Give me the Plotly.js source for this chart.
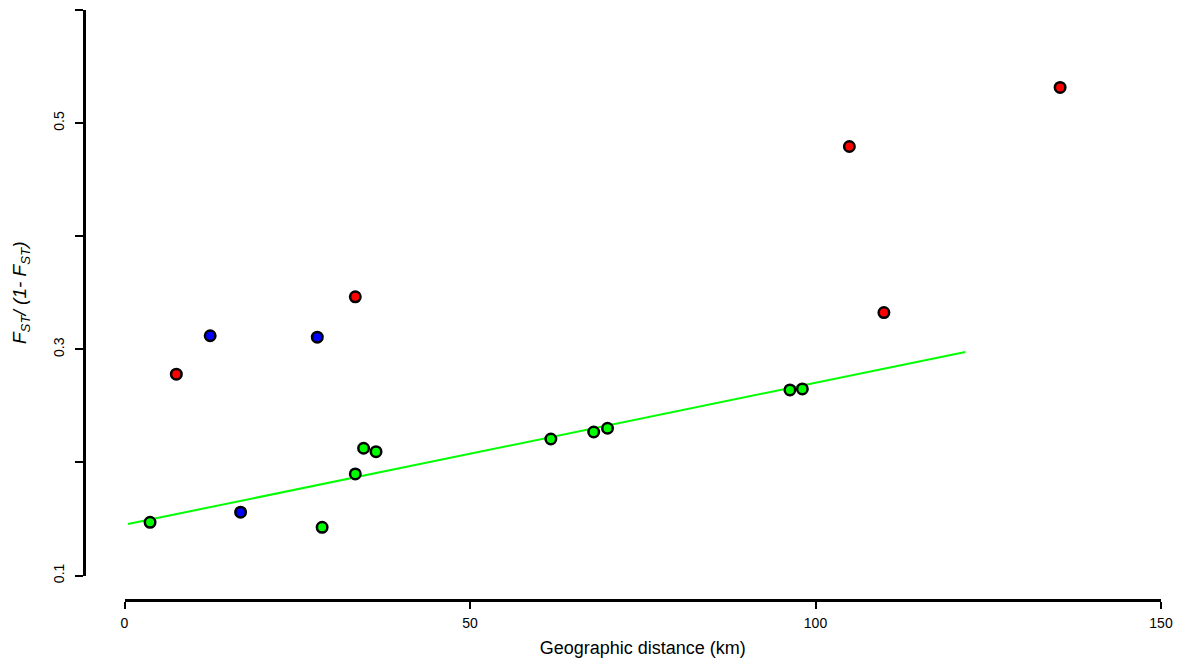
<!DOCTYPE html>
<html>
<head>
<meta charset="utf-8">
<script src="https://cdn.plot.ly/plotly-3.0.1.min.js"></script>
<style>html,body{margin:0;padding:0;background:#fff}#chart{width:1181px;height:664px}</style>
</head>
<body>
<div id="chart"></div>
<script>
// Green group (within-cluster pairs)
const greenX = [3.7, 28.6, 33.4, 34.6, 36.4, 61.7, 67.9, 69.9, 96.3, 98.1];
const greenY = [0.147, 0.1426, 0.1898, 0.2125, 0.2095, 0.2207, 0.2269, 0.2302, 0.2641, 0.265];
// Blue group
const blueX = [12.4, 16.8, 27.9];
const blueY = [0.312, 0.156, 0.3107];
// Red group
const redX = [7.5, 33.4, 104.9, 109.9, 135.4];
const redY = [0.278, 0.3464, 0.4793, 0.3325, 0.5315];
// Regression line for the green group
const lineX = [0.5, 121.7];
const lineY = [0.1455, 0.2977];

const xTicks = [0, 50, 100, 150];
const yTicks = [0.1, 0.3, 0.5];
const yTickText = ['0.1', '0.3', '0.5'];

const mk = (c) => ({size: 10.5, color: c, line: {color: '#000', width: 2.5}});

const traces = [
  {x: lineX, y: lineY, mode: 'lines', line: {color: '#00ff00', width: 2}, hoverinfo: 'skip'},
  {x: greenX, y: greenY, mode: 'markers', marker: mk('#00ff00')},
  {x: blueX, y: blueY, mode: 'markers', marker: mk('#0000ff')},
  {x: redX, y: redY, mode: 'markers', marker: mk('#ff0000')}
];

const W = 1181 - 84 - 20;
const H = 664 - 10 - 64;

const layout = {
  width: 1181, height: 664,
  showlegend: false,
  paper_bgcolor: '#fff', plot_bgcolor: '#fff',
  margin: {l: 84, r: 20, t: 10, b: 64, pad: 0},
  font: {family: 'Liberation Sans, Arial, sans-serif', color: '#000', size: 14},
  xaxis: {
    range: [0, 150], domain: [40.5 / W, 1],
    anchor: 'free', position: 0,
    tickvals: xTicks, ticktext: xTicks.map(String),
    ticks: 'outside', ticklen: 7, tickwidth: 2, tickcolor: '#000',
    showline: true, linewidth: 3, linecolor: '#000',
    showgrid: false, zeroline: false,
    tickfont: {size: 14},
    ticklabelstandoff: 2,
    title: {text: 'Geographic distance (km)', font: {size: 18}, standoff: 11}
  },
  yaxis: {
    range: [0.1, 0.6], domain: [24.5 / H, 1],
    anchor: 'free', position: 0,
    tickvals: yTicks, ticktext: yTickText,
    ticks: 'outside', ticklen: 8, tickwidth: 2, tickcolor: '#000',
    minor: {tickmode: 'linear', tick0: 0.1, dtick: 0.1, ticks: 'outside', ticklen: 8, tickwidth: 2, tickcolor: '#000', showgrid: false},
    showline: true, linewidth: 3, linecolor: '#000',
    showgrid: false, zeroline: false,
    tickangle: -90,
    tickfont: {size: 14},
    ticklabelstandoff: 5,
    title: {text: '<i>F<sub>ST</sub>/ (1- F<sub>ST</sub>)</i>', font: {size: 19}, standoff: 18}
  }
};

Plotly.newPlot('chart', traces, layout, {displayModeBar: false, staticPlot: true});
</script>
</body>
</html>
